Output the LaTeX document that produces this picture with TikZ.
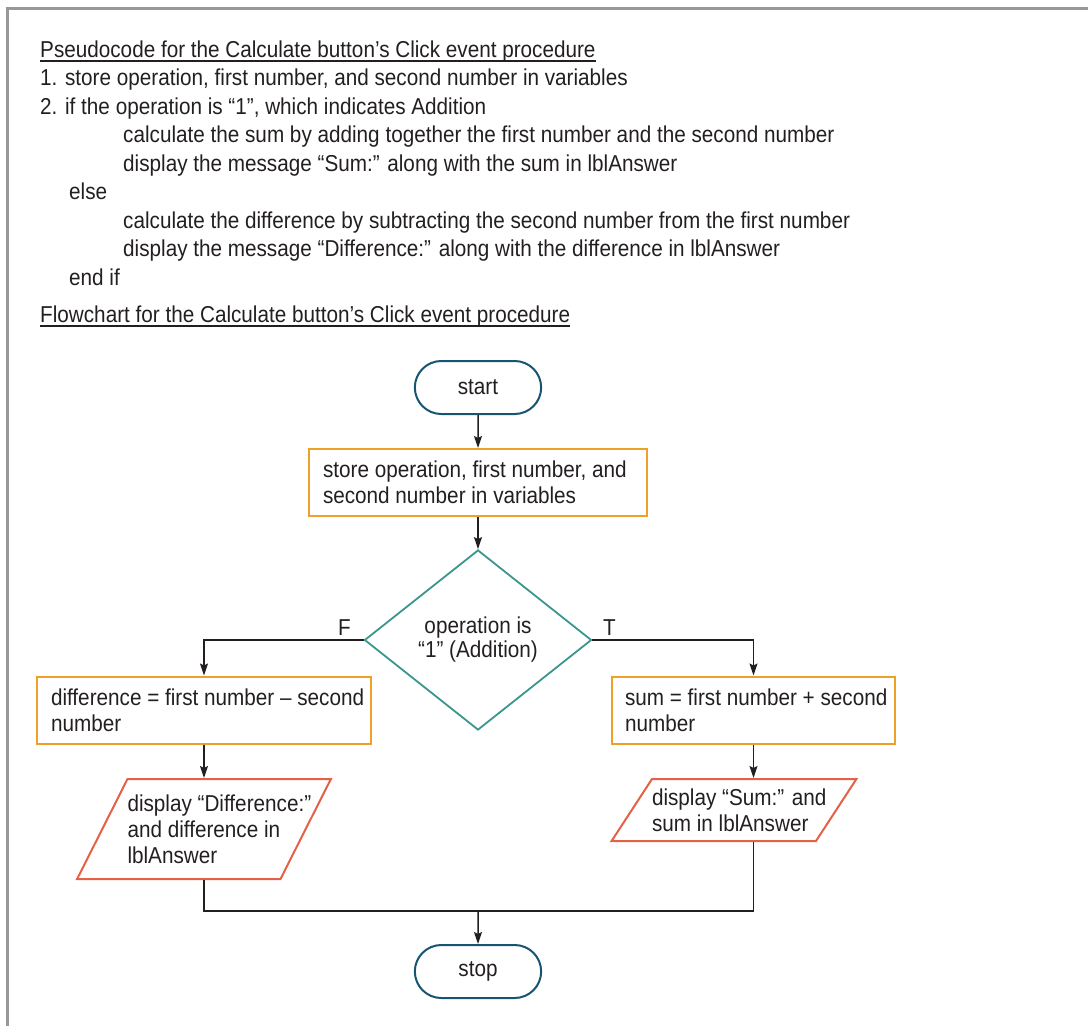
\documentclass[tikz,border=0pt]{standalone}
\usepackage{fontspec}
\setmainfont{Liberation Sans}[FakeStretch=0.9]
\usetikzlibrary{shapes.geometric, shapes.misc, arrows.meta, positioning}

\definecolor{inkgray}{RGB}{35,31,32}
\definecolor{framegray}{RGB}{152,152,152}
\definecolor{termblue}{RGB}{22,84,112}
\definecolor{procorange}{RGB}{238,160,40}
\definecolor{decteal}{RGB}{58,150,140}
\definecolor{iored}{RGB}{228,96,70}

\tikzstyle{line} = [line width=1.5pt, draw=inkgray]
\tikzstyle{arrow} = [line, -{Stealth[length=12pt,width=8pt,inset=2pt]}]
\tikzstyle{code} = [anchor=base west, inner sep=0pt]
\tikzstyle{term} = [rounded rectangle, draw=termblue, line width=2pt, minimum width=133pt, minimum height=53pt]
\tikzstyle{proc} = [rectangle, draw=procorange, line width=2pt, align=flush left, inner xsep=14pt, minimum height=67pt]
\tikzstyle{dec} = [diamond, draw=decteal, line width=1.8pt, align=flush center, inner sep=0pt, minimum width=227pt, minimum height=180pt, font=\fontsize{23}{24}\selectfont]
\tikzstyle{io} = [trapezium, trapezium stretches body, draw=iored, line width=2pt, align=flush left, inner xsep=0pt]

\begin{document}
\begin{tikzpicture}[x=1pt,y=-1pt,on grid,font=\fontsize{23}{26}\selectfont,text=inkgray]
    \useasboundingbox (0,0) rectangle (1088,1026);
    \draw[framegray,line width=3pt] (7,1026) -- (7,8) -- (1088,8);

    % pseudocode
    \node[code] (p_0) at (40,57) {Pseudocode for the Calculate button’s Click event procedure};
    \draw[line,line width=1.2pt] ([yshift=-4pt]p_0.base west) -- ([yshift=-4pt]p_0.base east);
    \node[code] (p_1) at (40,85.5) {1. store operation, first number, and second number in variables};
    \node[code] (p_2) at (40,114) {2. if the operation is “1”, which indicates Addition};
    \node[code] (p_3) at (123,142.5) {calculate the sum by adding together the first number and the second number};
    \node[code] (p_4) at (123,171) {display the message “Sum:” along with the sum in lblAnswer};
    \node[code] (p_5) at (69,199.5) {else};
    \node[code] (p_6) at (123,228) {calculate the difference by subtracting the second number from the first number};
    \node[code] (p_7) at (123,256.5) {display the message “Difference:” along with the difference in lblAnswer};
    \node[code] (p_8) at (69,285) {end if};
    \node[code] (p_9) at (40,322) {Flowchart for the Calculate button’s Click event procedure};
    \draw[line,line width=1.2pt] ([yshift=-4pt]p_9.base west) -- ([yshift=-4pt]p_9.base east);

    % flowchart
    \node[term] (f_start) at (478,387.5) {start};
    \node[proc,text width=310pt] (f_store) [below=95pt of f_start] {\mbox{store operation, first number, and}\\second number in variables};
    \node[dec] (f_if) [below=157.5pt of f_store] {operation is\\“1” (Addition)};
    \node[proc,text width=306pt] (f_diff) [below left=70pt and 274pt of f_if] {\mbox{difference = first number – second}\\number};
    \node[proc,text width=257pt,inner xsep=13pt] (f_sum) [below right=70pt and 275.5pt of f_if] {\mbox{sum = first number + second}\\number};
    \node[io,text width=153pt,minimum height=100pt,trapezium left angle=56.3,trapezium right angle=123.7] (f_outd) [below=119pt of f_diff] {\mbox{display “Difference:”}\\and difference in\\lblAnswer};
    \node[io,text width=164pt,minimum height=62pt,trapezium left angle=50.8,trapezium right angle=129.2] (f_outs) [below left=100pt and 19.5pt of f_sum] {\mbox{display “Sum:” and}\\sum in lblAnswer};
    \node[term] (f_stop) at (478,971.5) {stop};
    \coordinate (f_join) at (478,911);

    \draw[arrow] (f_start) -- (f_store);
    \draw[arrow] (f_store) -- (f_if);
    \draw[arrow] (f_if.west) node[anchor=base east,inner sep=0pt,xshift=-12pt,yshift=5pt] {F} -| (f_diff.north);
    \draw[arrow] (f_if.east) node[anchor=base west,inner sep=0pt,xshift=10pt,yshift=5pt] {T} -| (f_sum.north);
    \draw[arrow] (f_diff) -- (f_diff.south |- f_outd.north);
    \draw[arrow] (f_sum) -- (f_sum.south |- f_outs.north);
    \draw[line] (f_outd.south -| f_diff.south) |- (f_join) -| (f_sum.south |- f_outs.south);
    \draw[arrow] (f_join) -- (f_stop);
\end{tikzpicture}
\end{document}
